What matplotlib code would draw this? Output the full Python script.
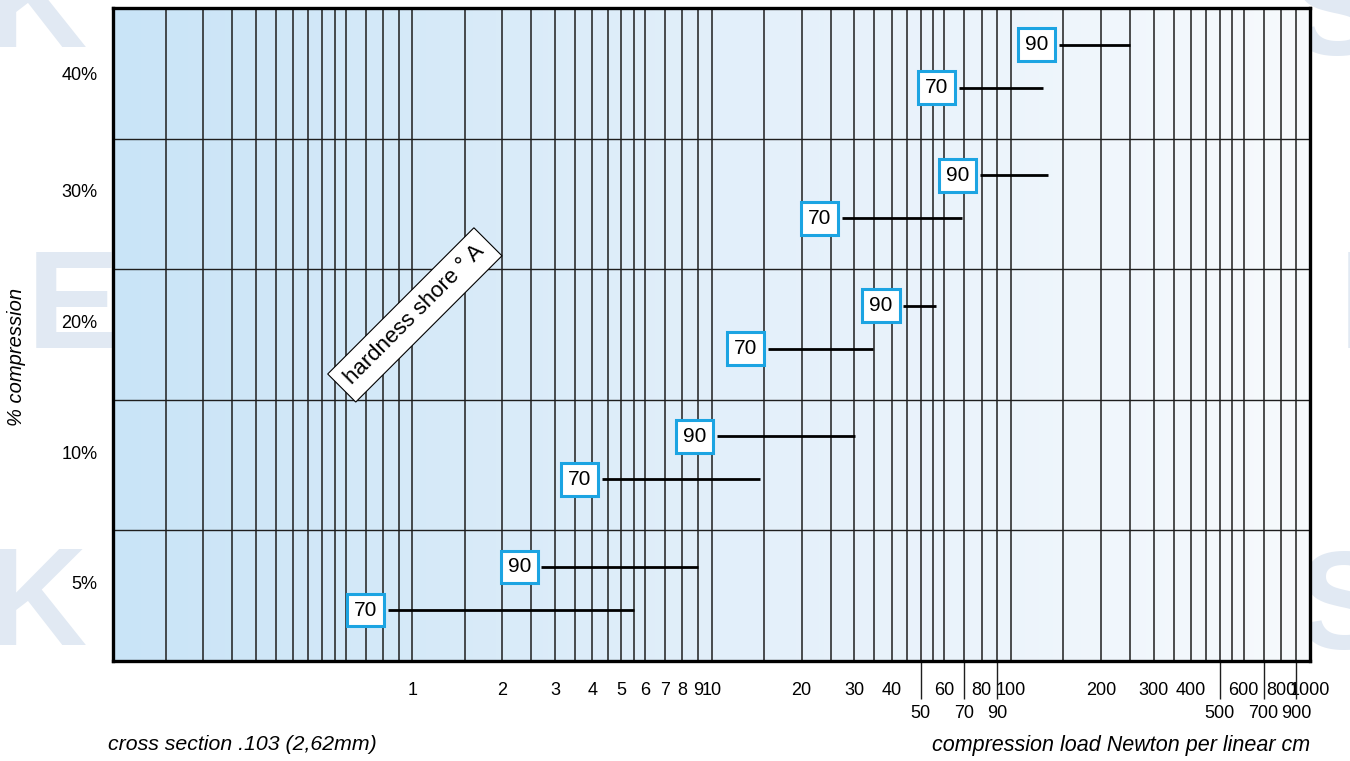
import numpy as np
import matplotlib.pyplot as plt
from matplotlib.colors import LinearSegmentedColormap

plt.rcParams['font.family'] = ['Liberation Sans', 'DejaVu Sans']

# % compression bands, bottom to top
compression = ['5%', '10%', '20%', '30%', '40%']

# compression load range (N per linear cm) for each hardness
load_70_from = [0.83, 4.3, 15.4, 27.3, 67]
load_70_to = [5.5, 14.5, 34.6, 68.7, 128]
load_90_from = [2.7, 10.4, 43.7, 78.9, 145]
load_90_to = [9.0, 30.2, 56.2, 133.6, 250]

# x tick labels: upper row and lower (long tick) row
x_row1 = [1, 2, 3, 4, 5, 6, 7, 8, 9, 10, 20, 30, 40, 60, 80, 100,
          200, 300, 400, 600, 800, 1000]
x_row2 = [50, 70, 90, 500, 700, 900]

# log paper rulings in every decade
ruling = [1, 1.5, 2, 2.5, 3, 3.5, 4, 4.5, 5, 5.5, 6, 7, 8, 9]
grid_x = [r * 10.0 ** d for d in (-1, 0, 1, 2) for r in ruling][1:]

fig = plt.figure(figsize=(13.5, 7.61), dpi=100)

# pale letters behind the chart
wm = dict(color='#e1e9f3', fontsize=100, fontweight='bold', zorder=-5,
          va='center')
fig.text(-0.01, 0.985, 'K', ha='left', **wm)
fig.text(0.02, 0.59, 'E', ha='left', **wm)
fig.text(-0.01, 0.20, 'K', ha='left', **wm)
fig.text(1.025, 0.975, 'S', ha='right', **wm)
fig.text(1.06, 0.59, 'E', ha='right', **wm)
fig.text(1.03, 0.195, 'S', ha='right', **wm)

rect = [113 / 1350, 1 - 661 / 761, 1197 / 1350, 653 / 761]

# gradient background
bg = fig.add_axes(rect, zorder=0)
cmap = LinearSegmentedColormap.from_list('bg', ['#c9e4f7', '#e2effa', '#f7fafd'])
bg.imshow(np.linspace(0, 1, 256).reshape(1, -1), cmap=cmap, aspect='auto')
bg.axis('off')

ax = fig.add_axes(rect, zorder=1)
ax.set_facecolor('none')
ax.set_xscale('log')
ax.set_xlim(0.1, 1000)
ax.set_ylim(0, 5)

for v in grid_x:
    ax.axvline(v, color='#1e1e1e', lw=1.1, zorder=1)
for y in range(1, 5):
    ax.axhline(y, color='#1e1e1e', lw=1.0, zorder=1)

for spine in ax.spines.values():
    spine.set_linewidth(2.4)
    spine.set_zorder(5)

box = dict(boxstyle='square,pad=0.33', fc='white', ec='#1ca4e2', lw=2.2)
for i in range(len(compression)):
    for y, x0, x1, hard in ((i + 0.39, load_70_from[i], load_70_to[i], '70'),
                            (i + 0.72, load_90_from[i], load_90_to[i], '90')):
        ax.hlines(y, x0, x1, color='black', lw=2.0, zorder=3)
        ax.annotate(hard, (x0, y), xytext=(-7.5, 0), textcoords='offset points',
                    ha='right', va='center', fontsize=15, bbox=box, zorder=4)

ax.text(1.02, 2.65, 'hardness shore ° A', rotation=45, rotation_mode='anchor',
        ha='center', va='center', fontsize=16, zorder=4,
        bbox=dict(boxstyle='square,pad=0.42', fc='white', ec='black', lw=0.8))

ax.set_xticks(x_row1, labels=[str(v) for v in x_row1])
ax.set_xticks(x_row2, labels=[str(v) for v in x_row2], minor=True)
ax.tick_params(axis='x', which='major', length=0, pad=15, labelsize=13)
ax.tick_params(axis='x', which='minor', length=27, width=1.0, color='#1e1e1e',
               direction='out', pad=5, labelsize=13)

ax.set_yticks([0.6, 1.6, 2.6, 3.6, 4.5], labels=compression)
ax.tick_params(axis='y', length=0, pad=11, labelsize=13)

fig.text(17 / 1350, 1 - 357 / 761, '% compression', rotation=90, style='italic',
         fontsize=14.5, ha='center', va='center')
fig.text(108 / 1350, 1 - 745 / 761, 'cross section .103 (2,62mm)', style='italic',
         fontsize=15.3, ha='left', va='center')
fig.text(1310 / 1350, 1 - 745 / 761, 'compression load Newton per linear cm',
         style='italic', fontsize=15.5, ha='right', va='center')

fig.savefig('out.png', dpi=100)
